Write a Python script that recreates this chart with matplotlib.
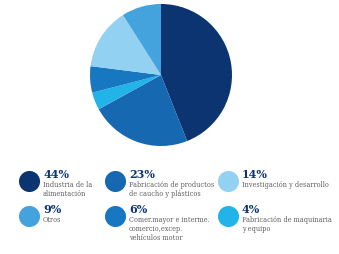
import matplotlib.pyplot as plt

# slice data, clockwise from 12 o'clock
shares = [44, 23, 4, 6, 14, 9]
colors = ['#0b3471', '#1668b0', '#22b3e8', '#1877c1', '#93d1f2', '#44a2dc']

# legend data (row by row)
leg_pct = ['44%', '23%', '14%', '9%', '6%', '4%']
leg_txt = ['Industria de la\nalimentación',
           'Fabricación de productos\nde caucho y plásticos',
           'Investigación y desarrollo',
           'Otros',
           'Comer.mayor e interme.\ncomercio,excep.\nvehículos motor',
           'Fabricación de maquinaria\ny equipo']
leg_col = ['#0b3471', '#1668b0', '#93d1f2', '#44a2dc', '#1877c1', '#22b3e8']

W, H = 339, 255
fig = plt.figure(figsize=(W / 100, H / 100), dpi=100)
fig.patch.set_facecolor('white')

# pie
ax = fig.add_axes([90 / W, (H - 147) / H, 142 / W, 142 / H])
ax.pie(shares, colors=colors, startangle=90, counterclock=False,
       wedgeprops=dict(linewidth=0))
ax.set_xlim(-1, 1)
ax.set_ylim(-1, 1)
ax.set_aspect('equal')

# legend drawn in pixel coordinates
lg = fig.add_axes([0, 0, 1, 1])
lg.set_xlim(0, W)
lg.set_ylim(H, 0)
lg.axis('off')

xs = [29, 115, 228]
ys = [182, 217]
for i in range(6):
    cx = xs[i % 3]
    cy = ys[i // 3]
    lg.scatter([cx], [cy], s=230, color=leg_col[i], linewidths=0)
    lg.text(cx + 14, cy - 2, leg_pct[i], fontsize=8, fontweight='bold',
            family='DejaVu Serif', color='#0b3471', va='bottom', ha='left')
    lg.text(cx + 14, cy - 1, leg_txt[i], fontsize=4.7,
            family='DejaVu Serif', color='#606060', va='top', ha='left',
            linespacing=1.15)

fig.savefig('out.png', dpi=100, facecolor='white')
